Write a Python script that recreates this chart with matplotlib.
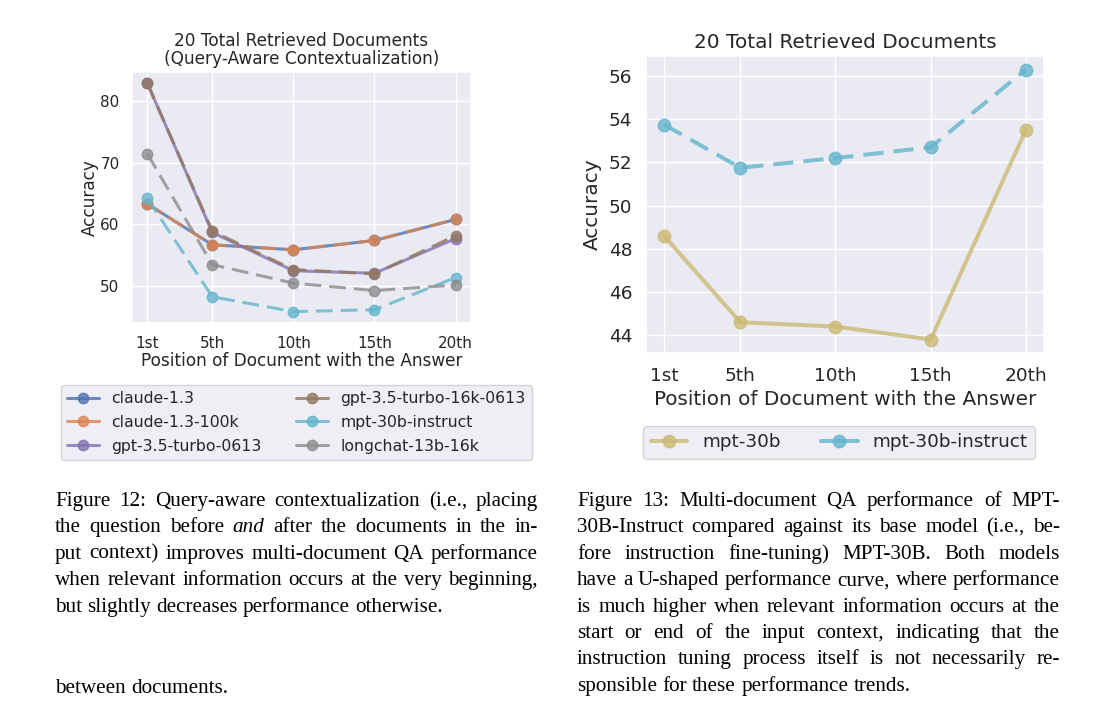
import matplotlib
matplotlib.use('Agg')
import matplotlib.pyplot as plt
import seaborn as sns

# Data
positions = [1, 5, 10, 15, 20]
position_labels = ['1st', '5th', '10th', '15th', '20th']

# Figure 12: query-aware contextualization
claude_13 = [63.3, 56.7, 55.9, 57.4, 60.8]
claude_13_100k = [63.3, 56.7, 55.9, 57.4, 60.8]
gpt35_0613 = [82.8, 58.7, 52.5, 52.1, 57.7]
gpt35_16k_0613 = [82.8, 58.9, 52.7, 52.0, 58.2]
mpt30b_instruct_qa = [64.2, 48.3, 45.9, 46.2, 51.4]
longchat_13b_16k = [71.4, 53.5, 50.5, 49.3, 50.2]

# Figure 13: base vs instruct
mpt30b = [48.6, 44.6, 44.4, 43.8, 53.5]
mpt30b_instruct = [53.75, 51.75, 52.2, 52.7, 56.3]

left_caption = [
    "Figure 12: Query-aware contextualization (i.e., placing",
    "the question before *and* after the documents in the in-",
    "put context) improves multi-document QA performance",
    "when relevant information occurs at the very beginning,",
    "but slightly decreases performance otherwise.",
]
left_tail = "between documents."
right_caption = [
    "Figure 13: Multi-document QA performance of MPT-",
    "30B-Instruct compared against its base model (i.e., be-",
    "fore instruction fine-tuning) MPT-30B. Both models",
    "have a U-shaped performance curve, where performance",
    "is much higher when relevant information occurs at the",
    "start or end of the input context, indicating that the",
    "instruction tuning process itself is not necessarily re-",
    "sponsible for these performance trends.",
]

sns.set_theme(style='darkgrid')
plt.rcParams['font.family'] = ['DejaVu Sans']
pal = sns.color_palette('deep')

W, H = 1096, 708
fig = plt.figure(figsize=(W / 100, H / 100), dpi=100)

def px_axes(left, top, right, bottom):
    return fig.add_axes([left / W, 1 - bottom / H, (right - left) / W, (bottom - top) / H])

# ---- left chart
ax1 = px_axes(132, 72, 471, 323)
lw1, ms1 = 2.2, 7.5
series1 = [
    ('claude-1.3', claude_13, pal[0], '-'),
    ('claude-1.3-100k', claude_13_100k, pal[1], '--'),
    ('gpt-3.5-turbo-0613', gpt35_0613, pal[4], '-'),
    ('gpt-3.5-turbo-16k-0613', gpt35_16k_0613, pal[5], '--'),
    ('mpt-30b-instruct', mpt30b_instruct_qa, pal[9], '--'),
    ('longchat-13b-16k', longchat_13b_16k, pal[7], '--'),
]
for name, vals, col, ls in series1:
    line, = ax1.plot(positions, vals, marker='o', color=col, linestyle=ls,
                     linewidth=lw1, markersize=ms1, alpha=0.8, label=name)
    if ls == '--':
        line.set_dashes((5.5, 2.6))
ax1.set_xticks(positions)
ax1.set_xticklabels(position_labels)
ax1.set_yticks([50, 60, 70, 80])
ax1.tick_params(axis='both', labelsize=11, length=0, pad=9)
ax1.set_title('20 Total Retrieved Documents\n(Query-Aware Contextualization)',
              fontsize=12.2, linespacing=1.0, pad=6)
ax1.set_xlabel('Position of Document with the Answer', fontsize=12.2, labelpad=1)
ax1.set_ylabel('Accuracy', fontsize=12.2, labelpad=1)
leg1 = ax1.legend(ncol=2, loc='upper center', bbox_to_anchor=(296.5 / W, 1 - 385 / H),
                  bbox_transform=fig.transFigure, fontsize=11.3, handlelength=2.0,
                  columnspacing=2.2, labelspacing=0.55, borderaxespad=0)
for h in leg1.get_lines():
    h.set_linestyle('-')

# ---- right chart
ax2 = px_axes(646, 56, 1044, 353)
lw2, ms2 = 2.9, 9
l1, = ax2.plot(positions, mpt30b, marker='o', color=pal[8], linestyle='-',
               linewidth=lw2, markersize=ms2, alpha=0.8, label='mpt-30b')
l2, = ax2.plot(positions, mpt30b_instruct, marker='o', color=pal[9], linestyle='--',
               linewidth=lw2, markersize=ms2, alpha=0.8, label='mpt-30b-instruct')
l2.set_dashes((5, 2.5))
ax2.set_xticks(positions)
ax2.set_xticklabels(position_labels)
ax2.set_yticks([44, 46, 48, 50, 52, 54, 56])
ax2.tick_params(axis='both', labelsize=13.3, length=0, pad=10)
ax2.set_title('20 Total Retrieved Documents', fontsize=14.4, pad=6)
ax2.set_xlabel('Position of Document with the Answer', fontsize=14.4, labelpad=4)
ax2.set_ylabel('Accuracy', fontsize=14.4, labelpad=5)
leg2 = ax2.legend(ncol=2, loc='upper center', bbox_to_anchor=(839 / W, 1 - 426 / H),
                  bbox_transform=fig.transFigure, fontsize=13.2, handlelength=2.0,
                  columnspacing=2.2, borderaxespad=0)
for h in leg2.get_lines():
    h.set_linestyle('-')

# ---- captions (justified, word by word)
renderer = fig.canvas.get_renderer()
CAP_FAMILY = 'Liberation Serif'

def natural_width(text, size):
    t = fig.text(0, 0, text.replace('*', ''), fontsize=size, family=CAP_FAMILY)
    w = t.get_window_extent(renderer).width
    t.remove()
    return w

# pick the caption size so the widest justified line just fits its column
col_w = 483
justified = left_caption[:-1] + right_caption[:-1]
CAP_SIZE = 10 * min(col_w / natural_width(s, 10) for s in justified) * 0.995

def caption_line(text, x0, x1, y, justify):
    items = []
    for w in text.split(' '):
        style = 'normal'
        if w.startswith('*') and w.endswith('*'):
            w, style = w[1:-1], 'italic'
        t = fig.text(0, 1 - y / H, w, fontsize=CAP_SIZE, family=CAP_FAMILY,
                     style=style, va='baseline', ha='left', color='black')
        items.append(t)
    widths = [t.get_window_extent(renderer).width for t in items]
    if justify and len(items) > 1:
        gap = (x1 - x0 - sum(widths)) / (len(items) - 1)
    else:
        gap = CAP_SIZE * 100 / 72 * 0.25
    x = x0
    for t, w in zip(items, widths):
        t.set_x(x / W)
        x += w + gap

base, step = 506, 26.4
for i, line in enumerate(left_caption):
    caption_line(line, 55, 55 + col_w, base + i * step, i < len(left_caption) - 1)
caption_line(left_tail, 55, 55 + col_w, 693, False)
for i, line in enumerate(right_caption):
    caption_line(line, 577, 577 + col_w, base + i * step, i < len(right_caption) - 1)

fig.savefig('out.png', dpi=100, facecolor='white')
